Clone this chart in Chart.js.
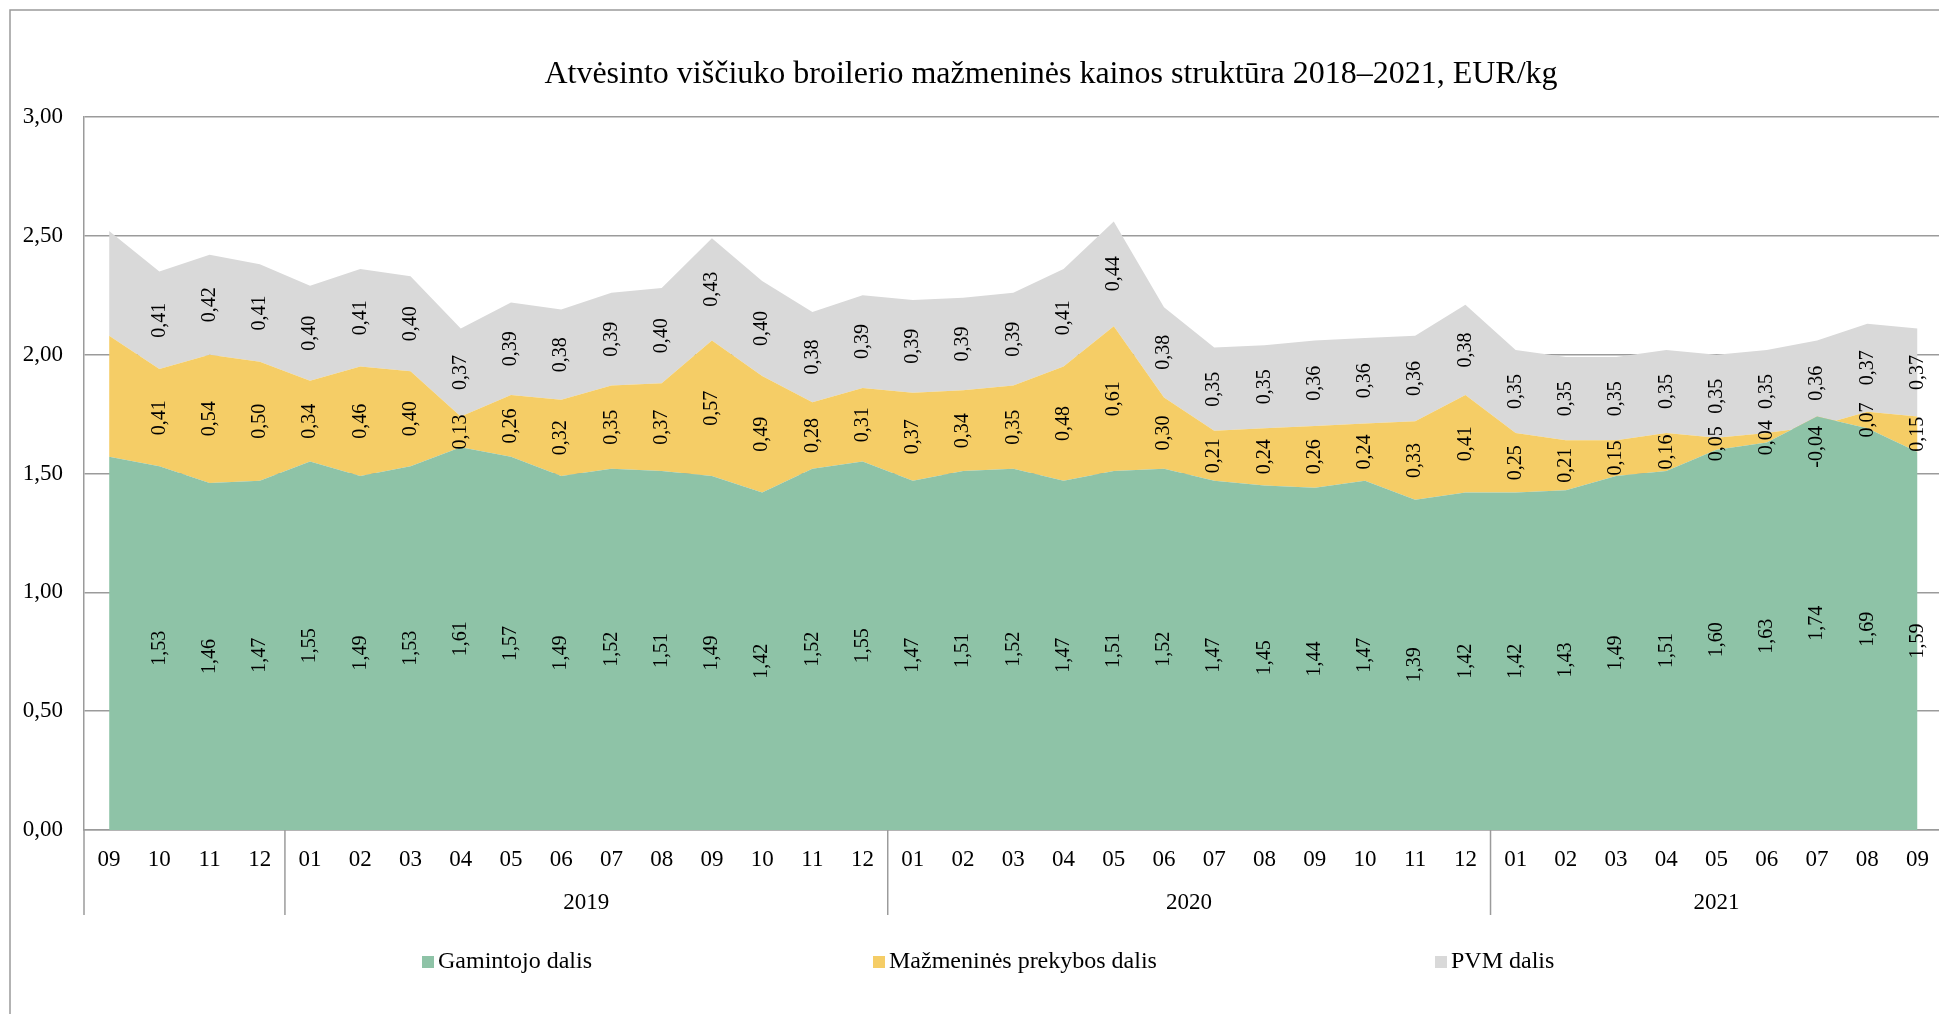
<!DOCTYPE html>
<html lang="lt">
<head>
<meta charset="UTF-8">
<title>Atvėsinto viščiuko broilerio mažmeninės kainos struktūra 2018–2021</title>
<script src="https://cdn.jsdelivr.net/npm/chart.js"></script>
<style>
    * {
        margin: 0;
        padding: 0;
        box-sizing: border-box;
    }

    html, body {
        background: #fff;
        overflow: hidden;
    }

    /* šiek tiek platesnis už langą: braižymo sritis baigiasi už dešiniojo krašto */
    #wrap {
        position: relative;
        width: 1945px;
        height: 1014px;
    }
</style>
</head>
<body>
<div id="wrap"><canvas id="kainosChart"></canvas></div>
<script>
    // Mėnesiai (2018-09 ... 2021-09)
    const menesiai = ['09', '10', '11', '12',
        '01', '02', '03', '04', '05', '06', '07', '08', '09', '10', '11', '12',
        '01', '02', '03', '04', '05', '06', '07', '08', '09', '10', '11', '12',
        '01', '02', '03', '04', '05', '06', '07', '08', '09'];
    const metai = ['', '2019', '2020', '2021'];
    const metuMenesiuSk = [4, 12, 12, 9];

    // EUR/kg
    const gamintojoDalis = [1.57, 1.53, 1.46, 1.47,
        1.55, 1.49, 1.53, 1.61, 1.57, 1.49, 1.52, 1.51, 1.49, 1.42, 1.52, 1.55,
        1.47, 1.51, 1.52, 1.47, 1.51, 1.52, 1.47, 1.45, 1.44, 1.47, 1.39, 1.42,
        1.42, 1.43, 1.49, 1.51, 1.60, 1.63, 1.74, 1.69, 1.59];
    const prekybosDalis = [0.51, 0.41, 0.54, 0.50,
        0.34, 0.46, 0.40, 0.13, 0.26, 0.32, 0.35, 0.37, 0.57, 0.49, 0.28, 0.31,
        0.37, 0.34, 0.35, 0.48, 0.61, 0.30, 0.21, 0.24, 0.26, 0.24, 0.33, 0.41,
        0.25, 0.21, 0.15, 0.16, 0.05, 0.04, -0.04, 0.07, 0.15];
    const pvmDalis = [0.44, 0.41, 0.42, 0.41,
        0.40, 0.41, 0.40, 0.37, 0.39, 0.38, 0.39, 0.40, 0.43, 0.40, 0.38, 0.39,
        0.39, 0.39, 0.39, 0.41, 0.44, 0.38, 0.35, 0.35, 0.36, 0.36, 0.36, 0.38,
        0.35, 0.35, 0.35, 0.35, 0.35, 0.35, 0.36, 0.37, 0.37];

    const serijos = ['Gamintojo dalis', 'Mažmeninės prekybos dalis', 'PVM dalis'];
    const spalvos = ['#8ec3a7', '#f5cd66', '#d9d9d9'];
    const pavadinimas = 'Atvėsinto viščiuko broilerio mažmeninės kainos struktūra 2018–2021, EUR/kg';

    const SRIFTAS = "'Liberation Serif', 'Times New Roman', serif";
    const PILKA = '#9b9b9b';

    const fmt = v => Number(v).toFixed(2).replace('.', ',');

    Chart.defaults.font.family = SRIFTAS;
    Chart.defaults.color = '#000';

    // fonas ir rėmelis
    const remelis = {
        id: 'remelis',
        beforeDraw(chart) {
            const ctx = chart.ctx;
            ctx.save();
            ctx.fillStyle = '#fff';
            ctx.fillRect(0, 0, chart.width, chart.height);
            ctx.strokeStyle = PILKA;
            ctx.lineWidth = 1.5;
            ctx.beginPath();
            ctx.moveTo(10, chart.height);
            ctx.lineTo(10, 10);
            ctx.lineTo(chart.width, 10);
            ctx.stroke();
            ctx.restore();
        }
    };

    // reikšmių etiketės (pasuktos)
    const reiksmes = {
        id: 'reiksmes',
        afterDatasetsDraw(chart) {
            const ctx = chart.ctx;
            const y0 = chart.scales.y.getPixelForValue(0);
            ctx.save();
            ctx.font = '20px ' + SRIFTAS;
            ctx.fillStyle = '#000';
            ctx.textBaseline = 'middle';
            chart.data.datasets.forEach((ds, i) => {
                const meta = chart.getDatasetMeta(i);
                const apacia = i > 0 ? chart.getDatasetMeta(i - 1) : null;
                meta.data.forEach((pt, j) => {
                    if (j === 0) return;
                    const v = ds.data[j];
                    const yb = apacia ? apacia.data[j].y : y0;
                    let y, align;
                    if (v < 0) {
                        y = pt.y;
                        align = 'right';
                    } else {
                        y = (pt.y + yb) / 2;
                        align = 'center';
                    }
                    ctx.save();
                    ctx.translate(pt.x, y);
                    ctx.rotate(-Math.PI / 2);
                    ctx.textAlign = align;
                    ctx.fillText(fmt(v), 0, 0);
                    ctx.restore();
                });
            });
            ctx.restore();
        }
    };

    // pavadinimas, metų eilutė ir legenda
    const papildai = {
        id: 'papildai',
        afterDraw(chart) {
            const ctx = chart.ctx;
            const x = chart.scales.x;
            const area = chart.chartArea;
            ctx.save();

            ctx.fillStyle = '#000';
            ctx.font = '32px ' + SRIFTAS;
            ctx.textAlign = 'center';
            ctx.textBaseline = 'middle';
            ctx.fillText(pavadinimas, 1051, 75);

            // metai
            ctx.strokeStyle = PILKA;
            ctx.lineWidth = 1.5;
            ctx.font = '23px ' + SRIFTAS;
            let pradzia = 0;
            metai.forEach((m, k) => {
                const pab = pradzia + metuMenesiuSk[k] - 1;
                const riba = pradzia === 0 ? area.left
                    : (x.getPixelForValue(pradzia - 1) + x.getPixelForValue(pradzia)) / 2;
                ctx.beginPath();
                ctx.moveTo(riba, area.bottom);
                ctx.lineTo(riba, area.bottom + 85);
                ctx.stroke();
                if (m) {
                    const cx = (x.getPixelForValue(pradzia) + x.getPixelForValue(pab)) / 2;
                    ctx.fillText(m, cx, area.bottom + 73);
                }
                pradzia = pab + 1;
            });

            // legenda
            ctx.textAlign = 'left';
            ctx.font = '24px ' + SRIFTAS;
            const lx = [422, 873, 1435];
            const ly = 962;
            serijos.forEach((s, i) => {
                ctx.fillStyle = spalvos[i];
                ctx.fillRect(lx[i], ly - 6, 12, 12);
                ctx.fillStyle = '#000';
                ctx.fillText(s, lx[i] + 16, ly);
            });
            ctx.restore();
        }
    };

    const duomenys = [gamintojoDalis, prekybosDalis, pvmDalis];

    new Chart(document.getElementById('kainosChart'), {
        type: 'line',
        data: {
            labels: menesiai,
            datasets: duomenys.map((d, i) => ({
                label: serijos[i],
                data: d,
                backgroundColor: spalvos[i],
                borderColor: 'rgba(0,0,0,0)',
                borderWidth: 0,
                pointRadius: 0,
                tension: 0,
                fill: i === 0 ? 'origin' : '-1'
            }))
        },
        options: {
            responsive: true,
            maintainAspectRatio: false,
            animation: false,
            layout: {
                padding: { top: 117, left: 0, right: 0, bottom: 0 }
            },
            plugins: {
                legend: { display: false },
                title: { display: false },
                tooltip: { enabled: false }
            },
            scales: {
                x: {
                    offset: true,
                    grid: { display: false, drawTicks: false },
                    border: { display: true, color: PILKA, width: 1.5 },
                    ticks: {
                        autoSkip: false,
                        maxRotation: 0,
                        padding: 16,
                        color: '#000',
                        font: { size: 23 }
                    },
                    afterFit: s => { s.height = 184; }
                },
                y: {
                    stacked: 'single',
                    min: 0,
                    max: 3,
                    ticks: {
                        stepSize: 0.5,
                        padding: 21,
                        color: '#000',
                        font: { size: 23 },
                        callback: v => fmt(v)
                    },
                    grid: { color: PILKA, lineWidth: 1.5, drawTicks: false },
                    border: { color: PILKA, width: 1.5 },
                    afterFit: s => { s.width = 84; }
                }
            }
        },
        plugins: [remelis, reiksmes, papildai]
    });
</script>
</body>
</html>
